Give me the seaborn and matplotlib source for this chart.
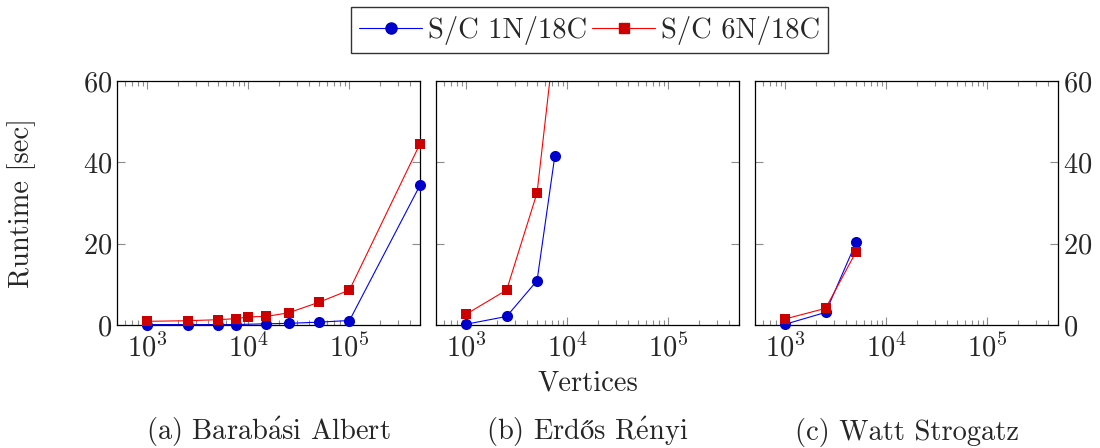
import numpy as np
import pandas as pd
import seaborn as sns
import matplotlib.pyplot as plt
from matplotlib.lines import Line2D
from matplotlib.ticker import LogLocator, NullFormatter, FixedLocator

# data
ba_x_1n = [1000, 2500, 5000, 7500, 15000, 25000, 50000, 100000, 500000]
ba_y_1n = [0.1, 0.1, 0.1, 0.1, 0.3, 0.4, 0.7, 1.1, 34.4]
ba_x_6n = [1000, 2500, 5000, 7500, 10000, 15000, 25000, 50000, 100000, 500000]
ba_y_6n = [0.9, 1.05, 1.3, 1.55, 2.0, 2.1, 3.0, 5.6, 8.6, 44.6]

er_x_1n = [1000, 2500, 5000, 7500]
er_y_1n = [0.2, 2.1, 10.9, 41.6]
er_x_6n = [1000, 2500, 5000, 7500]
er_y_6n = [2.7, 8.6, 32.5, 71.0]

ws_x_1n = [1000, 2500, 5000]
ws_y_1n = [0.2, 3.1, 20.3]
ws_x_6n = [1000, 2500, 5000]
ws_y_6n = [1.5, 4.1, 18.0]

# accents through mathtext so they stay in a serif face (cmr10 has no such glyphs)
captions = [r"(a) Barab$\acute{\mathrm{a}}$si Albert",
            "(b) Erd$\\mathrm{ő}$s R$\\acute{\\mathrm{e}}$nyi",
            "(c) Watt Strogatz"]
series_names = ["S/C 1N/18C", "S/C 6N/18C"]

panels = [
    [(ba_x_1n, ba_y_1n), (ba_x_6n, ba_y_6n)],
    [(er_x_1n, er_y_1n), (er_x_6n, er_y_6n)],
    [(ws_x_1n, ws_y_1n), (ws_x_6n, ws_y_6n)],
]

sns.set_theme(style="ticks")
plt.rcParams['font.family'] = ['cmr10', 'DejaVu Serif']
plt.rcParams['mathtext.fontset'] = 'cm'
plt.rcParams['axes.formatter.use_mathtext'] = True
fs = 20.5

styles = [
    dict(color=(0, 0, 1), marker="o", mfc=(0, 0, 0.8), ms=8),
    dict(color=(1, 0, 0), marker="s", mfc=(0.8, 0, 0), ms=7.5),
]

fig = plt.figure(figsize=(11, 4.48), dpi=100)
lefts = [0.1064, 0.3964, 0.6864]
axes = [fig.add_axes([l, 0.2746, 0.2755, 0.5446]) for l in lefts]

for i, ax in enumerate(axes):
    for j, (xs, ys) in enumerate(panels[i]):
        st = styles[j]
        df = pd.DataFrame({"x": xs, "y": ys})
        sns.lineplot(data=df, x="x", y="y", ax=ax, color=st["color"], lw=0.8,
                     legend=False, zorder=2)
        inside = df[df.y <= 60]
        sns.scatterplot(data=inside, x="x", y="y", ax=ax, marker=st["marker"],
                        color=st["mfc"], edgecolor=st["mfc"], s=st["ms"] ** 2,
                        linewidth=0, clip_on=False, zorder=3, legend=False)
    ax.set_xscale("log")
    ax.set_xlim(500, 500000)
    ax.set_ylim(0, 60)
    ax.xaxis.set_major_locator(LogLocator(base=10, numticks=10))
    ax.xaxis.set_minor_locator(LogLocator(base=10, subs=np.arange(2, 10), numticks=10))
    ax.xaxis.set_minor_formatter(NullFormatter())
    ax.yaxis.set_major_locator(FixedLocator([0, 20, 40, 60]))
    ax.tick_params(which="both", direction="in", top=True, right=True,
                   color="0.55", labelsize=fs, width=0.8)
    ax.tick_params(which="major", length=6)
    ax.tick_params(which="minor", length=3.5)
    ax.tick_params(axis="x", pad=6)
    for sp in ax.spines.values():
        sp.set_linewidth(0.9)
        sp.set_color("black")
    ax.set_xlabel("")
    ax.set_ylabel("")
    pos = ax.get_position()
    fig.text(pos.x0 + pos.width / 2, 0.035, captions[i], ha="center",
             va="center", fontsize=fs)

axes[1].tick_params(axis="y", labelleft=False)
axes[2].tick_params(axis="y", labelleft=False, labelright=True)

p1 = axes[1].get_position()
fig.text(p1.x0 + p1.width / 2, 0.145, "Vertices", ha="center", va="center", fontsize=fs)
fig.text(0.02, 0.547, "Runtime [sec]", rotation=90, ha="center", va="center", fontsize=fs)

handles = [Line2D([], [], color=st["color"], lw=0.8, marker=st["marker"],
                  mfc=st["mfc"], mec=st["mfc"], ms=st["ms"]) for st in styles]
fig.legend(handles, series_names, loc="upper center", bbox_to_anchor=(0.536, 0.99),
           ncol=2, fontsize=fs, frameon=True, fancybox=False, edgecolor="black",
           columnspacing=0.2, handlelength=2.2, handletextpad=0.2, borderpad=0.3,
           borderaxespad=0.1)

fig.savefig("out.png", dpi=100)
